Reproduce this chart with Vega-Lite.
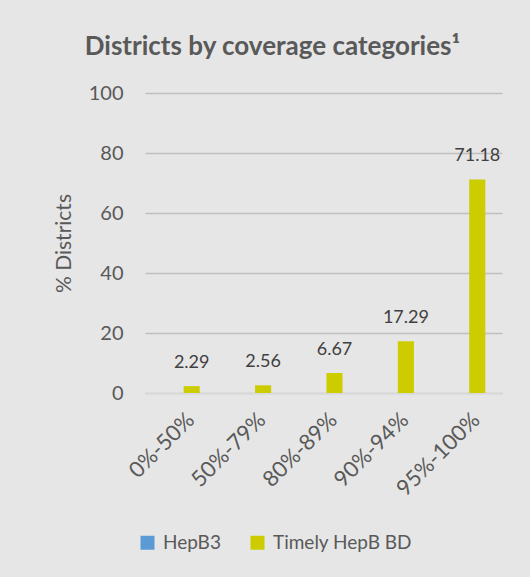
{
  "$schema": "https://vega.github.io/schema/vega-lite/v6.json",
  "width": 357,
  "height": 300,
  "autosize": {"type": "none"},
  "padding": {"left": 145, "right": 28, "top": 93, "bottom": 184},
  "background": "#e6e6e6",
  "title": {
    "text": "Districts by coverage categories¹",
    "font": "Lato",
    "fontSize": 26,
    "fontWeight": "bold",
    "color": "#595959",
    "anchor": "middle",
    "frame": "group",
    "dx": -51,
    "offset": 23
  },
  "config": {
    "view": {"stroke": null},
    "font": "Lato"
  },
  "data": {
    "values": [
      {"category": "0%-50%", "series": "HepB3", "value": null},
      {"category": "50%-79%", "series": "HepB3", "value": null},
      {"category": "80%-89%", "series": "HepB3", "value": null},
      {"category": "90%-94%", "series": "HepB3", "value": null},
      {"category": "95%-100%", "series": "HepB3", "value": null},
      {"category": "0%-50%", "series": "Timely HepB BD", "value": 2.29},
      {"category": "50%-79%", "series": "Timely HepB BD", "value": 2.56},
      {"category": "80%-89%", "series": "Timely HepB BD", "value": 6.67},
      {"category": "90%-94%", "series": "Timely HepB BD", "value": 17.29},
      {"category": "95%-100%", "series": "Timely HepB BD", "value": 71.18}
    ]
  },
  "encoding": {
    "x": {
      "field": "category",
      "type": "nominal",
      "sort": ["0%-50%", "50%-79%", "80%-89%", "90%-94%", "95%-100%"],
      "scale": {"paddingInner": 0.55, "paddingOuter": 0.275, "align": 0.575},
      "axis": {
        "title": null,
        "labelAngle": -45,
        "labelFontSize": 22,
        "labelColor": "#595959",
        "labelPadding": 16,
        "ticks": false,
        "domainColor": "#d9d9d9",
        "domainWidth": 1.5
      }
    },
    "xOffset": {
      "field": "series",
      "type": "nominal",
      "scale": {"domain": ["HepB3", "Timely HepB BD"], "paddingInner": 0, "paddingOuter": 0}
    },
    "y": {
      "field": "value",
      "type": "quantitative",
      "scale": {"domain": [0, 100]},
      "axis": {
        "title": "% Districts",
        "titleFontSize": 21,
        "titleFontWeight": "normal",
        "titleColor": "#595959",
        "titlePadding": 14,
        "values": [0, 20, 40, 60, 80, 100],
        "labelFontSize": 20,
        "labelColor": "#595959",
        "labelPadding": 22,
        "ticks": false,
        "domain": false,
        "gridColor": "#bfbfbf",
        "gridWidth": 1.5
      }
    }
  },
  "layer": [
    {
      "mark": {"type": "bar"},
      "encoding": {
        "color": {
          "field": "series",
          "type": "nominal",
          "scale": {"domain": ["HepB3", "Timely HepB BD"], "range": ["#5b9bd5", "#cccc00"]},
          "legend": {
            "title": null,
            "orient": "none",
            "direction": "horizontal",
            "legendX": -7,
            "legendY": 440,
            "symbolType": "square",
            "symbolSize": 196,
            "symbolStrokeWidth": 0,
            "labelFontSize": 19,
            "labelColor": "#595959",
            "columnPadding": 27,
            "labelOffset": 6
          }
        }
      }
    },
    {
      "transform": [{"filter": "datum.series === 'Timely HepB BD'"}],
      "mark": {"type": "text", "dy": -23, "fontSize": 18, "color": "#404040"},
      "encoding": {
        "text": {"field": "value", "type": "quantitative", "format": ".2f"}
      }
    }
  ]
}
